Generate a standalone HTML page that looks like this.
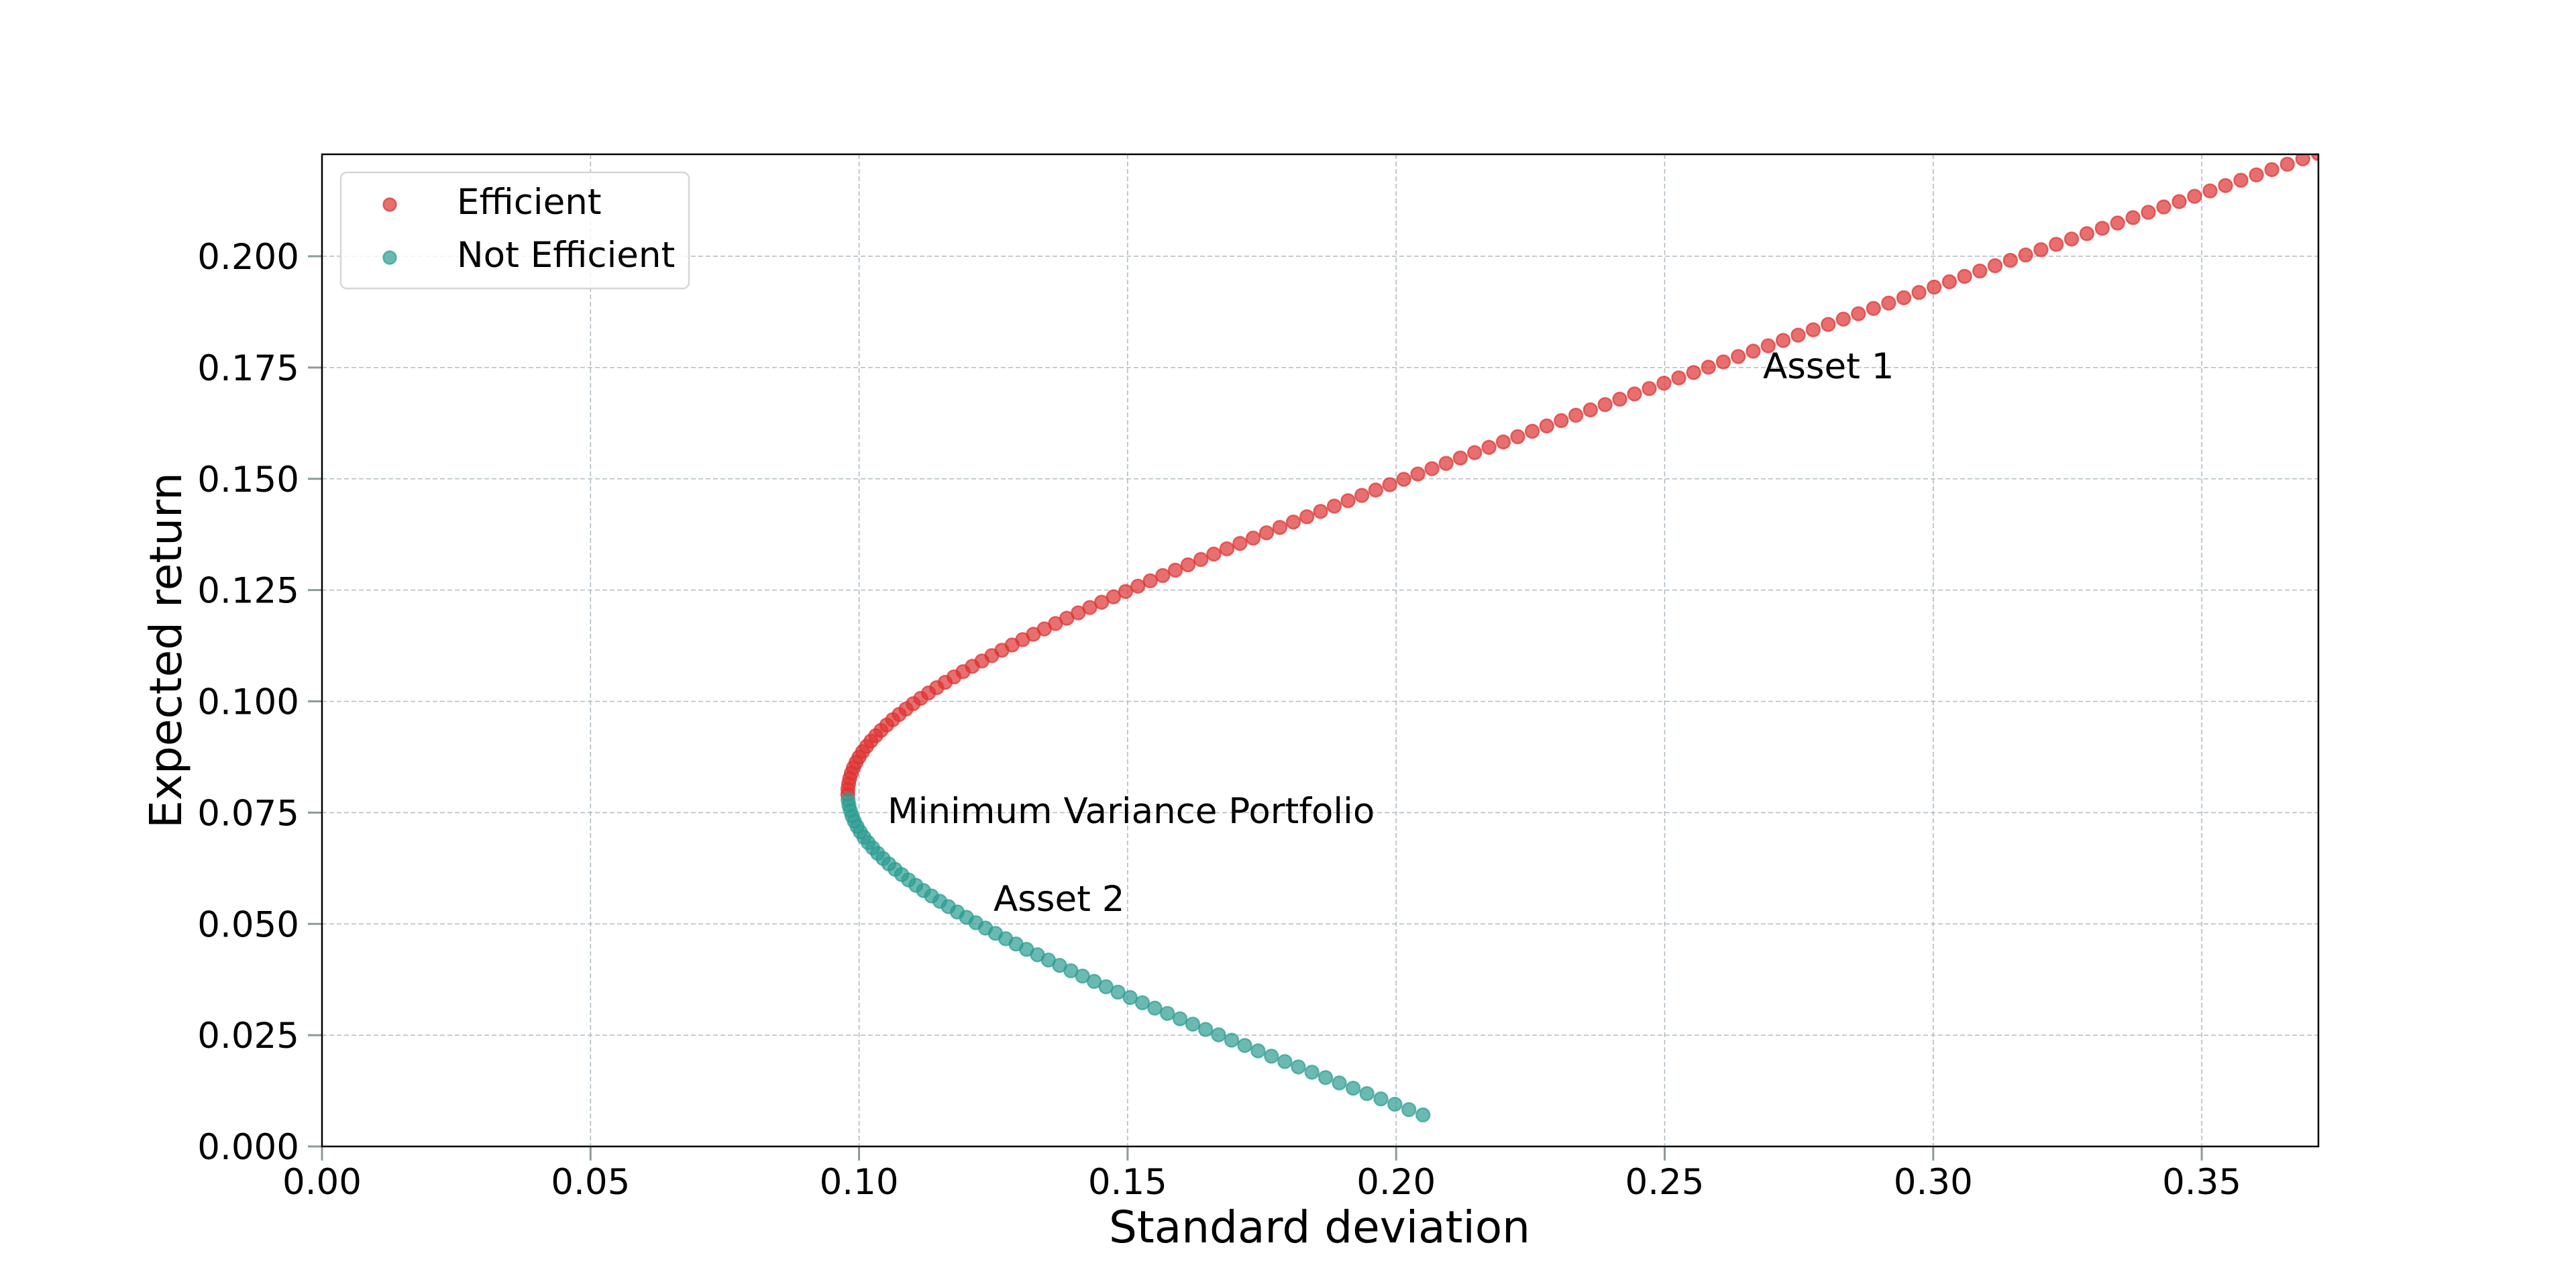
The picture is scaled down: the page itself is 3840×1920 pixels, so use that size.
<!DOCTYPE html>
<html><head><meta charset="utf-8"><style>
html,body{margin:0;padding:0;background:#fff;}
svg{display:block;}
text{font-family:"DejaVu Sans","Liberation Sans",sans-serif;fill:#000;}
</style></head><body>
<svg id="s" width="3840" height="1920" viewBox="0 0 3840 1920" xmlns="http://www.w3.org/2000/svg">
<defs><clipPath id="cp"><rect x="480" y="230" width="2976" height="1479"/></clipPath></defs>
<rect width="3840" height="1920" fill="#fff"/>
<g id="grid" stroke="#b0bcc3" stroke-width="1.6" stroke-dasharray="7 4" fill="none"></g>
<g id="ticks" stroke="#8c9a9e" stroke-width="3"></g>
<g id="labels" font-size="53"></g>
<g id="dots" clip-path="url(#cp)"></g>
<rect x="480" y="230" width="2976" height="1479" fill="none" stroke="#000" stroke-width="2.5"/>
<text x="1323" y="1227" font-size="53">Minimum Variance Portfolio</text>
<text x="1481" y="1358" font-size="53">Asset 2</text>
<text x="2628" y="564" font-size="53">Asset 1</text>
<text x="1967" y="1852" font-size="66" text-anchor="middle">Standard deviation</text>
<text transform="translate(270,969.5) rotate(-90)" font-size="66" text-anchor="middle">Expected return</text>
<rect x="508" y="257" width="519" height="173" rx="9" fill="#fff" fill-opacity="0.8" stroke="#d6d6d6" stroke-width="2.5"/>
<circle cx="581" cy="305" r="9.5" fill="rgb(222,50,50)" fill-opacity="0.7" stroke="rgb(222,50,50)" stroke-opacity="0.7" stroke-width="2.4"/>
<circle cx="581" cy="384" r="9.5" fill="rgb(44,156,146)" fill-opacity="0.7" stroke="rgb(44,156,146)" stroke-opacity="0.7" stroke-width="2.4"/>
<text x="681" y="319" font-size="53">Efficient</text>
<text x="681" y="398" font-size="53">Not Efficient</text>
</svg>
<script>
(function(){
var NS="http://www.w3.org/2000/svg";
function X(v){return 480+v*8006;}
function Y(v){return 1709-v*6635;}
function el(n,a,p,t){var e=document.createElementNS(NS,n);for(var k in a)e.setAttribute(k,a[k]);if(t!==undefined)e.textContent=t;p.appendChild(e);return e;}
var g=document.getElementById('grid'),tk=document.getElementById('ticks'),lb=document.getElementById('labels');
var xs=[0,0.05,0.10,0.15,0.20,0.25,0.30,0.35];
xs.forEach(function(v){var x=X(v);
 if(v>0)el('line',{x1:x,y1:230,x2:x,y2:1709},g);
 el('line',{x1:x,y1:1709,x2:x,y2:1730},tk);
 el('text',{x:x,y:1780,'text-anchor':'middle'},lb,v.toFixed(2));});
for(var i=0;i<=8;i++){var v=i*0.025,y=Y(v);
 if(i>0)el('line',{x1:480,y1:y,x2:3456,y2:y},g);
 el('line',{x1:459,y1:y,x2:480,y2:y},tk);
 el('text',{x:446,y:y+19,'text-anchor':'end'},lb,v.toFixed(3));}
var d=document.getElementById('dots');
var a=0.009584,b=6.22,m=0.0793;
var red=[],teal=[];
for(var k=0;k<=181;k++){var mu=0.00708+0.0012*k;var s=Math.sqrt(a+b*(mu-m)*(mu-m));
 (mu<0.0785?teal:red).push([X(s),Y(mu)]);}
function draw(arr,c){arr.forEach(function(p){el('circle',{cx:p[0].toFixed(1),cy:p[1].toFixed(1),r:10,fill:c,'fill-opacity':0.7,stroke:c,'stroke-opacity':0.7,'stroke-width':2.4},d);});}
draw(red,'rgb(222,50,50)');draw(teal,'rgb(44,156,146)');
})();
</script>
</body></html>
